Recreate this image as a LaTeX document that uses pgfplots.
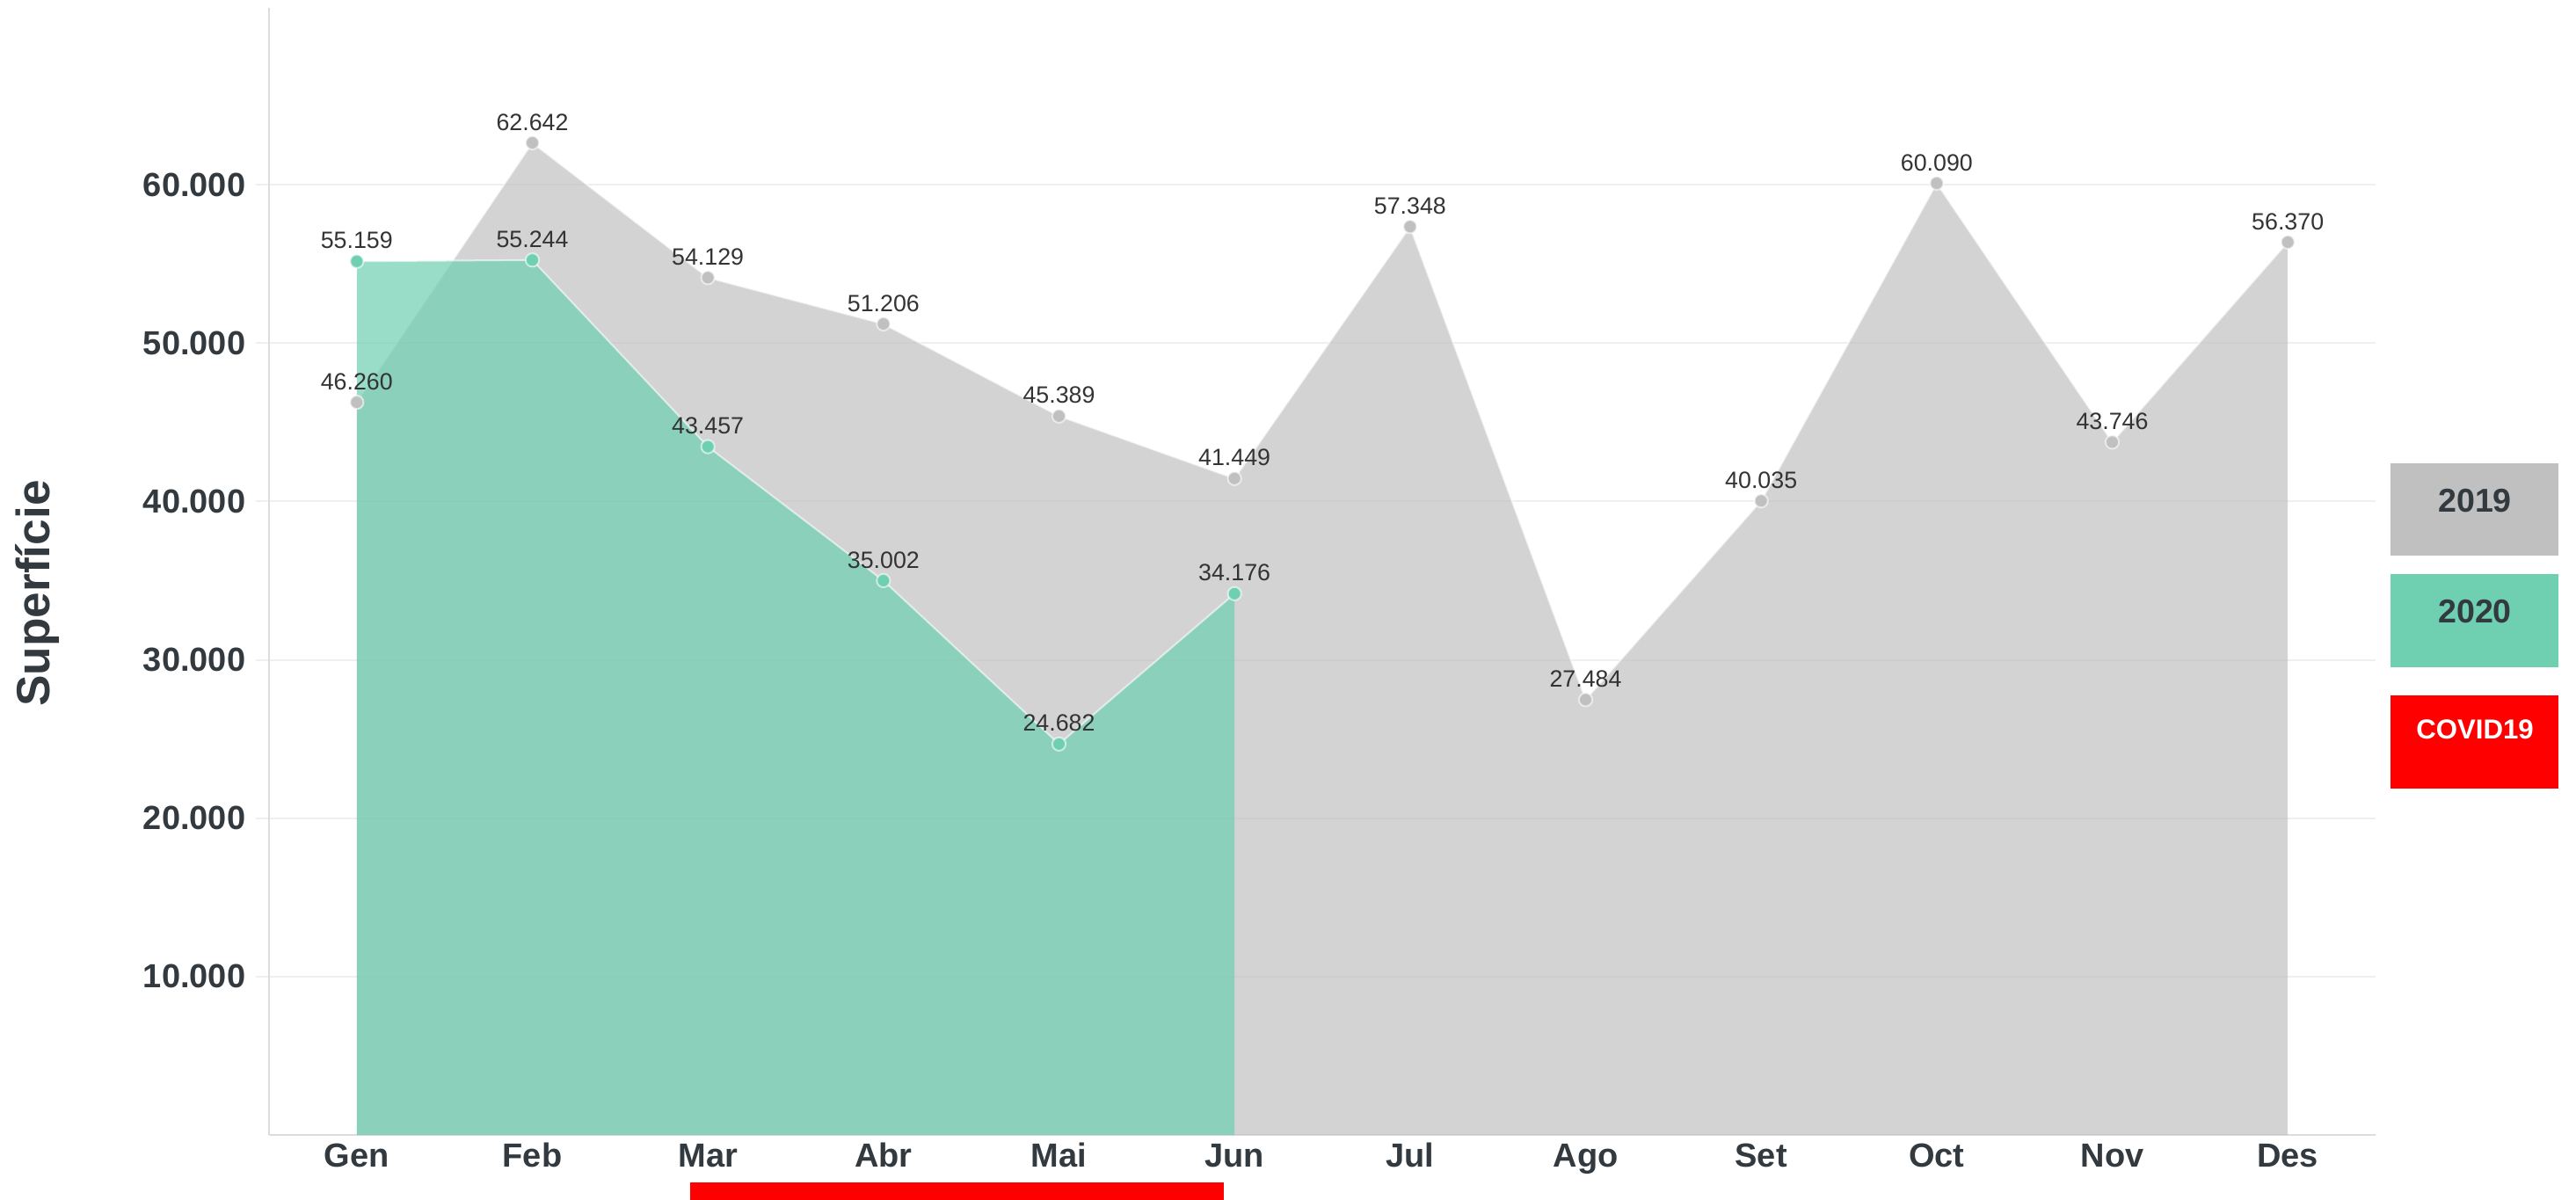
\documentclass[border=0pt]{standalone}
\usepackage{pgfplots}
\pgfplotsset{compat=1.18}
\usepackage{fontspec}
\setmainfont{Liberation Sans}
\definecolor{gA}{HTML}{C0C0C0}
\definecolor{gB}{HTML}{6ECFB1}
\definecolor{txt}{HTML}{333A3F}
\definecolor{lab}{HTML}{333333}
\definecolor{grd}{HTML}{EFEFEF}
\definecolor{axl}{HTML}{DCDCDC}
\begin{document}
\begin{tikzpicture}
\useasboundingbox (-76.5pt,-18.25pt) rectangle (656pt,322.75pt);
\begin{axis}[
  at={(0,0)}, anchor=south west,
  scale only axis, width=599pt, height=320.5pt,
  xmin=-0.5, xmax=11.5, ymin=0, ymax=71160,
  axis x line*=bottom, axis y line*=left,
  axis line style={-, draw=axl, line width=0.6pt},
  xtick={0,...,11},
  xticklabels={Gen,Feb,Mar,Abr,Mai,Jun,Jul,Ago,Set,Oct,Nov,Des},
  ytick={10000,20000,...,60000},
  scaled y ticks=false,
  /pgf/number format/.cd, fixed, precision=0, 1000 sep={.}, assume math mode=true, /pgfplots/.cd,
  ymajorgrids, grid style={draw=grd, line width=0.5pt},
  major x tick style={draw=none},
  major y tick style={draw=grd, line width=0.5pt},
  major tick length=3.75pt, tick align=outside,
  ticklabel style={font=\bfseries\fontsize{9.5}{11}\selectfont, text=txt},
  yticklabel style={inner sep=0pt, xshift=-2.75pt},
  xticklabel style={anchor=base, inner sep=0pt, yshift=-5.25pt},
  ylabel={Superfície},
  every axis y label/.style={at={(axis description cs:-0.1098,0.4805)}, rotate=90, anchor=center,
     font=\bfseries\fontsize{13.3}{15}\selectfont, text=txt},
  clip=false,
  nodes near coords style={font=\fontsize{6.7}{8}\selectfont, text=lab, anchor=base, yshift=3.6pt, inner sep=0pt},
]
% 2019 area
\addplot[fill=gA, fill opacity=0.7, draw=none] coordinates {
 (0,46260) (1,62642) (2,54129) (3,51206) (4,45389) (5,41449)
 (6,57348) (7,27484) (8,40035) (9,60090) (10,43746) (11,56370)} \closedcycle;
\addplot[draw=white, draw opacity=0.6, line width=0.5pt, mark=*, mark size=1.9pt,
  mark options={draw=none, fill=gA, fill opacity=1}] coordinates {
 (0,46260) (1,62642) (2,54129) (3,51206) (4,45389) (5,41449)
 (6,57348) (7,27484) (8,40035) (9,60090) (10,43746) (11,56370)};
% 2020 area
\addplot[fill=gB, fill opacity=0.7, draw=none] coordinates {
 (0,55159) (1,55244) (2,43457) (3,35002) (4,24682) (5,34176)} \closedcycle;
\addplot[draw=white, draw opacity=0.6, line width=0.5pt, mark=*, mark size=1.9pt,
  mark options={draw=none, fill=gB, fill opacity=1}] coordinates {
 (0,55159) (1,55244) (2,43457) (3,35002) (4,24682) (5,34176)};
% value labels
\addplot[draw=none, mark=none, nodes near coords] coordinates {
 (0,46260) (1,62642) (2,54129) (3,51206) (4,45389) (5,41449)
 (6,57348) (7,27484) (8,40035) (9,60090) (10,43746) (11,56370)};
\addplot[draw=none, mark=none, nodes near coords] coordinates {
 (0,55159) (1,55244) (2,43457) (3,35002) (4,24682) (5,34176)};
% COVID period bar
\fill[red] ([yshift=-13.5pt]axis cs:1.9,0) rectangle ([yshift=-20pt]axis cs:4.94,0);
\end{axis}
% legend boxes
\fill[gA] (603.25pt,164.75pt) rectangle (651pt,191pt);
\node[font=\bfseries\fontsize{9.4}{11}\selectfont, text=txt, inner sep=0pt] at (627.25pt,180.25pt) {2019};
\fill[gB] (603.25pt,133pt) rectangle (651pt,159.5pt);
\node[font=\bfseries\fontsize{9.4}{11}\selectfont, text=txt, inner sep=0pt] at (627.25pt,148.75pt) {2020};
\fill[red] (603.25pt,98.5pt) rectangle (651pt,125pt);
\node[font=\bfseries\fontsize{7.8}{9}\selectfont, text=white, inner sep=0pt] at (627.25pt,115.25pt) {COVID19};
\end{tikzpicture}
\end{document}
